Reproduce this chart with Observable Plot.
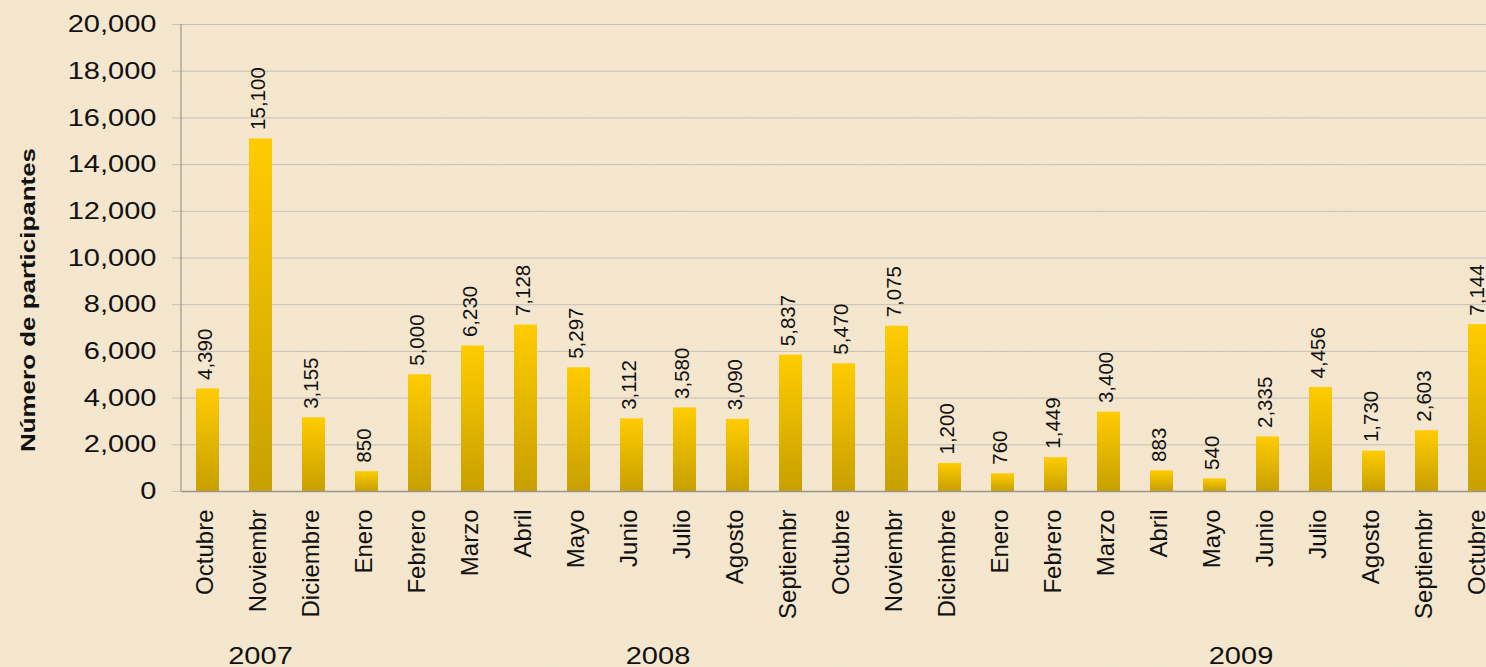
<!DOCTYPE html>
<html><head><meta charset="utf-8">
<script src="https://cdn.jsdelivr.net/npm/d3@7"></script>
<script src="https://cdn.jsdelivr.net/npm/@observablehq/plot@0.6"></script>
<style>
html,body{margin:0;padding:0;overflow:hidden;background:#F5E6CE;width:1486px;height:667px;}
#bg{position:absolute;left:0;top:0;}
#chart{position:absolute;left:0;top:0;}
</style></head><body>
<svg id="bg" width="1486" height="667">
  <filter id="paper" x="0" y="0" width="100%" height="100%">
    <feTurbulence type="fractalNoise" baseFrequency="0.9 0.08" numOctaves="3" seed="7" result="n"/>
    <feColorMatrix type="matrix" values="0 0 0 0 0.85  0 0 0 0 0.78  0 0 0 0 0.66  0 0 0 -1.2 0.75"/>
  </filter>
  <rect width="1486" height="667" fill="#F5E6CE"/>
  <rect width="1486" height="667" filter="url(#paper)" opacity="0.35"/>
</svg>
<div id="chart"></div>
<script>
const keys = ["2007-10","2007-11","2007-12","2008-01","2008-02","2008-03","2008-04","2008-05","2008-06","2008-07","2008-08","2008-09","2008-10","2008-11","2008-12","2009-01","2009-02","2009-03","2009-04","2009-05","2009-06","2009-07","2009-08","2009-09","2009-10"];
const months = ["Octubre","Noviembr","Diciembre","Enero","Febrero","Marzo","Abril","Mayo","Junio","Julio","Agosto","Septiembr","Octubre","Noviembr","Diciembre","Enero","Febrero","Marzo","Abril","Mayo","Junio","Julio","Agosto","Septiembr","Octubre"];
const values = [4390,15100,3155,850,5000,6230,7128,5297,3112,3580,3090,5837,5470,7075,1200,760,1449,3400,883,540,2335,4456,1730,2603,7144];
const yTicks = [0,2000,4000,6000,8000,10000,12000,14000,16000,18000,20000];
const yearLabels = ["2007","2008","2009"];
const yTitle = "Número de participantes";

const data = keys.map((k,i)=>({key:k, month:months[i], year:k.slice(0,4), value:values[i]}));
const fmt = d3.format(",");
const font = "'Liberation Sans', Arial, sans-serif";

const plot = Plot.plot({
  width: 1507, height: 667,
  marginLeft: 181, marginRight: 0, marginTop: 24, marginBottom: 176,
  style: {background: "transparent", maxWidth: "none", fontFamily: font, color: "#000", overflow: "visible"},
  x: {domain: keys, paddingInner: 0.56, paddingOuter: 0.28, axis: null},
  y: {domain: [0, 20000], axis: null},
  marks: [
    Plot.gridY({ticks: yTicks, stroke: "#c4bfb8", strokeOpacity: 1}),
    Plot.axisY({ticks: yTicks, tickSize: 9, tickPadding: 16, fontSize: 24, tickFormat: fmt, stroke: "#c4bfb8", fill: "#111", label: null}),
    Plot.barY(data, {x: "key", y: "value", fill: "url(#goldGrad)"}),
    Plot.ruleY([0], {stroke: "#9a978f", strokeWidth: 1.5}),
    Plot.text(data, {x: "key", y: "value", text: d => fmt(d.value), rotate: -90, textAnchor: "start", dy: -9, dx: -3, fontSize: 20.5, fill: "#111"}),
    Plot.axisX({tickRotate: -90, tickSize: 0, tickPadding: 18, fontSize: 24, dx: -3, fill: "#111", tickFormat: k => months[keys.indexOf(k)], label: null})
  ]
});

const svg = d3.select(plot);
svg.insert("defs", ":first-child").html(
  '<linearGradient id="goldGrad" x1="0" y1="0" x2="0" y2="1">' +
  '<stop offset="0" stop-color="#FFCC00"/><stop offset="1" stop-color="#C8A000"/></linearGradient>');

// y axis line
svg.append("line").attr("x1", 181).attr("x2", 181).attr("y1", 24).attr("y2", 491)
  .attr("stroke", "#9a978f").attr("stroke-width", 1.2);

// widen horizontal tick labels
svg.selectAll('g[aria-label="y-axis tick label"] text').each(function() {
  const t = this.getAttribute("transform") || "";
  const x = this.getAttribute("x") || 0;
  this.removeAttribute("x");
  this.setAttribute("transform", `${t} translate(${x},0) scale(1.21,1)`);
});

// year labels centred under their months
const xs = plot.scale("x");
const bw = xs.bandwidth;
yearLabels.forEach(yr => {
  const cs = data.filter(d => d.year === yr).map(d => xs.apply(d.key) + bw / 2);
  const cx = d3.mean(cs);
  svg.append("text").attr("transform", `translate(${cx},664) scale(1.21,1)`)
    .attr("text-anchor", "middle").attr("font-size", 24).attr("font-family", font)
    .attr("fill", "#111").text(yr);
});

// y title
svg.append("text").attr("transform", "translate(35,300) rotate(-90) scale(1.33,1)")
  .attr("text-anchor", "middle").attr("font-size", 19.5).attr("font-weight", "bold")
  .attr("font-family", font).attr("fill", "#111").text(yTitle);

document.getElementById("chart").appendChild(plot);
</script></body></html>
